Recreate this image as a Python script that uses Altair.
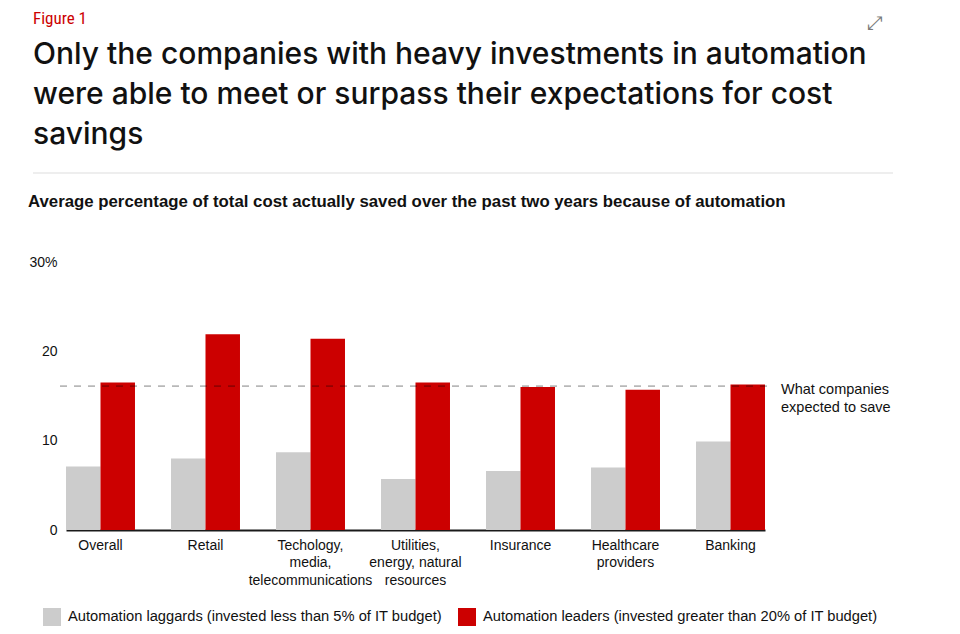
import altair as alt
import pandas as pd

categories = [
    "Overall",
    "Retail",
    "Techology,\nmedia,\ntelecommunications",
    "Utilities,\nenergy, natural\nresources",
    "Insurance",
    "Healthcare\nproviders",
    "Banking",
]
series_names = [
    "Automation laggards (invested less than 5% of IT budget)",
    "Automation leaders (invested greater than 20% of IT budget)",
]
laggards = [7.1, 8.0, 8.7, 5.7, 6.6, 7.0, 9.9]
leaders = [16.5, 21.9, 21.4, 16.5, 16.0, 15.7, 16.3]
expected = [16.1]
y_ticks = [0, 10, 20, 30]
colors = ["#cccccc", "#cc0000"]

title_lines = [
    "Only the companies with heavy investments in automation",
    "were able to meet or surpass their expectations for cost",
    "savings",
]
subtitle = "Average percentage of total cost actually saved over the past two years because of automation"
annotation = "What companies\nexpected to save"

rows = []
for i, c in enumerate(categories):
    rows.append({"category": c, "series": series_names[0], "value": laggards[i]})
    rows.append({"category": c, "series": series_names[1], "value": leaders[i]})
df = pd.DataFrame(rows)
exp_df = pd.DataFrame({"value": expected, "label": [annotation]})

W, H = 699, 268
LABEL_FONT = "Liberation Sans, Arial, sans-serif"

bars = alt.Chart(df).mark_bar().encode(
    x=alt.X(
        "category:N",
        sort=categories,
        scale=alt.Scale(paddingInner=0.343, paddingOuter=0),
        axis=alt.Axis(
            title=None,
            labelAngle=0,
            labelFontSize=14,
            labelFont=LABEL_FONT,
            labelColor="#111111",
            labelLineHeight=17.5,
            labelPadding=8,
            labelExpr="split(datum.label, '\\n')",
            ticks=False,
            domainColor="#1a1a1a",
            domainWidth=2,
            labelLimit=0,
        ),
    ),
    xOffset=alt.XOffset("series:N", sort=series_names, scale=alt.Scale(paddingInner=0)),
    y=alt.Y(
        "value:Q",
        scale=alt.Scale(domain=[0, 30], nice=False),
        axis=alt.Axis(
            title=None,
            values=y_ticks,
            grid=False,
            domain=False,
            ticks=False,
            labelFontSize=14,
            labelFont=LABEL_FONT,
            labelColor="#111111",
            labelPadding=9,
            labelExpr="datum.value == 30 ? '30%' : datum.label",
        ),
    ),
    color=alt.Color(
        "series:N",
        sort=series_names,
        scale=alt.Scale(domain=series_names, range=colors),
        legend=alt.Legend(
            title=None,
            orient="none",
            legendX=-23,
            legendY=346,
            direction="horizontal",
            symbolType="square",
            symbolSize=324,
            symbolStrokeWidth=0,
            labelFontSize=14.7,
            labelFont=LABEL_FONT,
            labelColor="#111111",
            labelOffset=7,
            columnPadding=16,
            labelLimit=0,
        ),
    ),
)

rule = alt.Chart(exp_df).mark_rule(
    color="black", opacity=0.28, strokeWidth=1.6, strokeDash=[7, 7]
).encode(
    y="value:Q",
    x=alt.value(-6),
    x2=alt.value(707),
)

ann = alt.Chart(exp_df).mark_text(
    align="left", baseline="alphabetic", lineBreak="\n", lineHeight=18,
    fontSize=14.5, font=LABEL_FONT, color="#111111", dx=0, dy=8,
).encode(
    y="value:Q",
    x=alt.value(715),
    text="label:N",
)

def const_text(txt, x, y, **kw):
    return alt.Chart(pd.DataFrame({"t": [txt]})).mark_text(
        align="left", baseline="alphabetic", **kw
    ).encode(x=alt.value(x), y=alt.value(y), text="t:N")

fig = const_text("Figure 1", -33, -238, fontSize=17,
                 font="Liberation Sans Narrow, Roboto Condensed, Arial Narrow, sans-serif", color="#cc0000")
title = const_text("\n".join(title_lines), -33, -198, fontSize=30, fontWeight=500, font="Inter, sans-serif",
                   color="#111111", lineBreak="\n", lineHeight=40)
sub = const_text(subtitle, -38, -55, fontSize=16.8, font=LABEL_FONT, fontWeight="bold", color="#111111")
icon = const_text("\u2922", 801, -233, fontSize=19, font="DejaVu Sans", color="#7a7a7a")

sep = alt.Chart(pd.DataFrame({"v": [0]})).mark_rule(color="#dddddd", strokeWidth=1).encode(
    x=alt.value(-33), x2=alt.value(827), y=alt.value(-89)
)

chart = alt.layer(bars, rule, ann, fig, title, sub, icon, sep).properties(
    width=W,
    height=H,
    autosize=alt.AutoSizeParams(type="none"),
    padding={"left": 58, "top": 254, "right": 187, "bottom": 96},
    background="white",
).configure_view(strokeWidth=0, stroke=None)

chart.save("out.html", embed_options={"renderer": "svg", "actions": False})
